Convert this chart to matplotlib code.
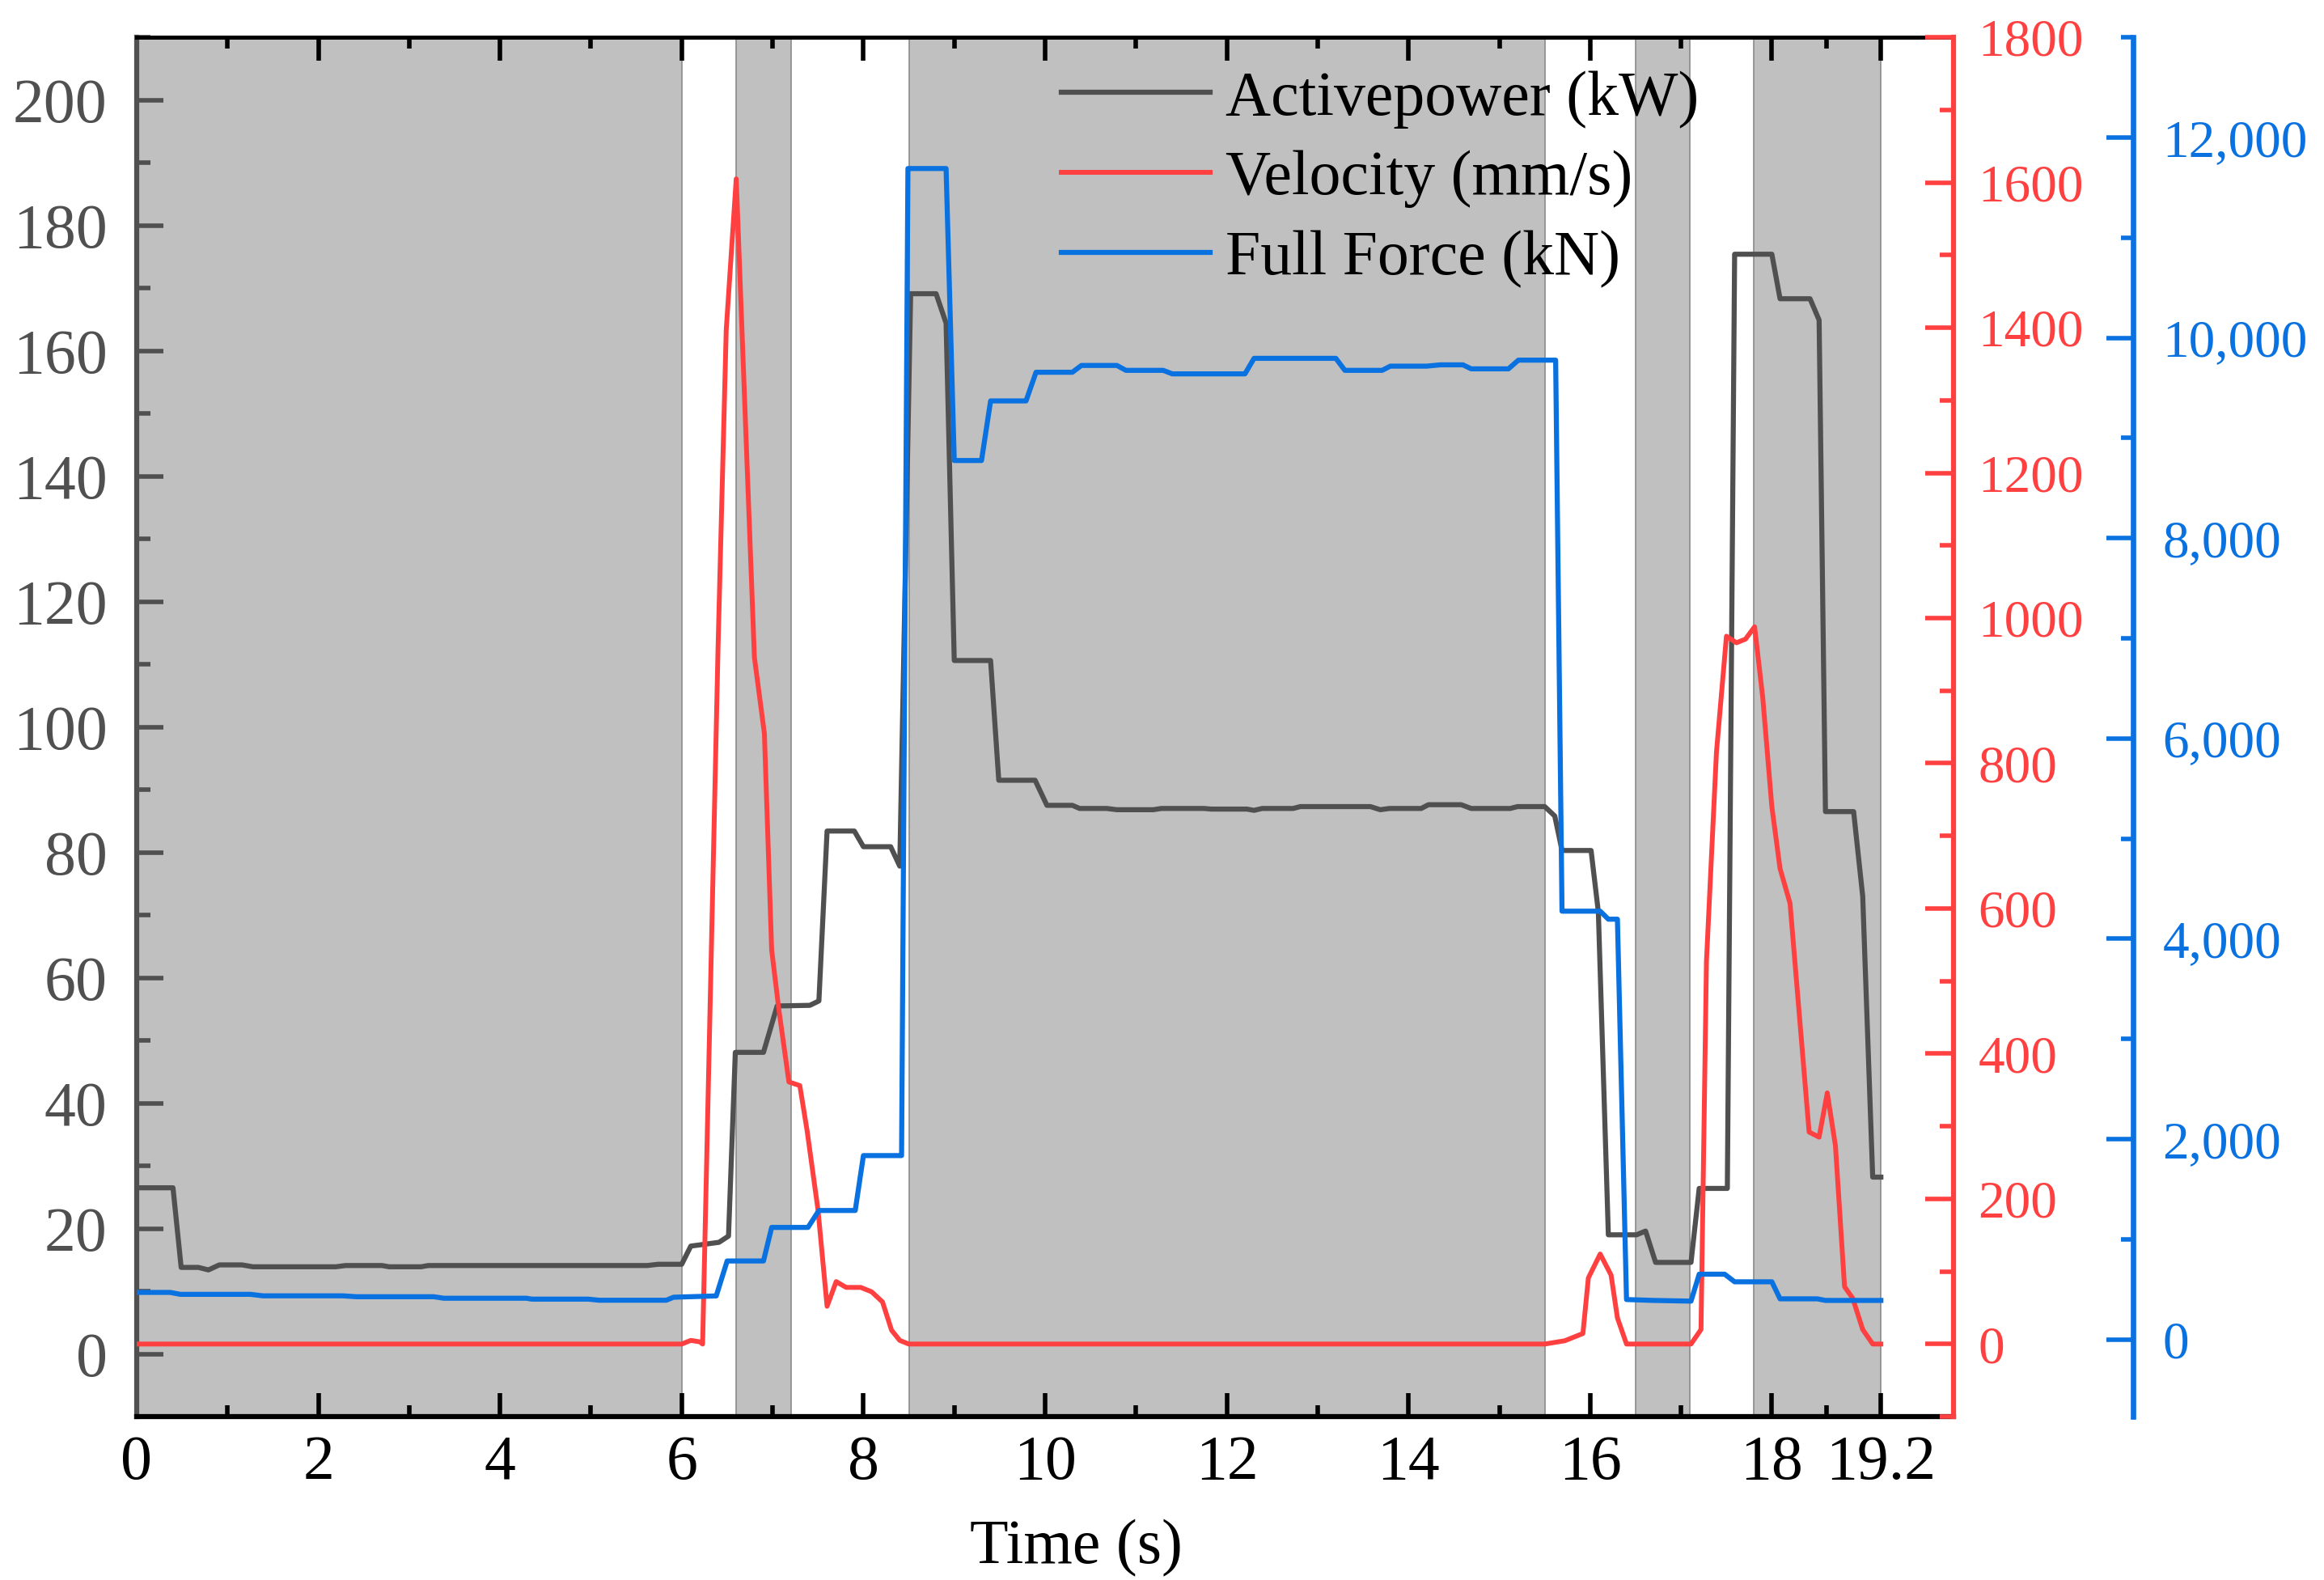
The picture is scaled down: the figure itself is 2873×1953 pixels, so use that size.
import numpy as np
import matplotlib.pyplot as plt
from matplotlib.ticker import MultipleLocator, FixedLocator, FuncFormatter

plt.rcParams['font.family'] = ['Liberation Serif', 'DejaVu Serif']

# ---------------- data ----------------
# Activepower (kW)
t_power = [0, 0.40, 0.49, 0.68, 0.79, 0.91, 1.16, 1.28, 2.19, 2.30, 2.70,
           2.78, 3.13, 3.21, 5.62, 5.74, 6.0, 6.1, 6.41, 6.515, 6.59, 6.90,
           7.05, 7.41, 7.51, 7.60, 7.90, 8.00, 8.30, 8.40, 8.52, 8.80, 8.91,
           9.0, 9.40, 9.49, 9.89, 10.02, 10.30, 10.38, 10.68, 10.79, 11.19,
           11.28, 11.75, 11.83, 12.22, 12.30, 12.39, 12.73, 12.81, 13.58,
           13.69, 13.79, 14.14, 14.22, 14.58, 14.69, 15.12, 15.20, 15.50,
           15.61, 15.69, 16.01, 16.09, 16.20, 16.51, 16.61, 16.72, 17.11,
           17.20, 17.51, 17.59, 18.00, 18.09, 18.42, 18.52, 18.59, 18.90,
           19.00, 19.11, 19.20]
power = [26.5, 26.5, 13.8, 13.8, 13.4, 14.2, 14.2, 13.9, 13.9, 14.1, 14.1,
         13.9, 13.9, 14.1, 14.1, 14.3, 14.3, 17.2, 17.8, 18.8, 48.1, 48.1,
         55.5, 55.6, 56.3, 83.4, 83.4, 80.9, 80.9, 77.8, 169.1, 169.1, 164.4,
         110.6, 110.6, 91.5, 91.5, 87.5, 87.5, 87.0, 87.0, 86.8, 86.8,
         87.0, 87.0, 86.9, 86.9, 86.7, 87.0, 87.0, 87.3, 87.3,
         86.8, 87.0, 87.0, 87.6, 87.6, 87.0, 87.0, 87.3, 87.3,
         85.8, 80.3, 80.3, 70.5, 19.0, 19.0, 19.6, 14.6, 14.6,
         26.4, 26.4, 175.4, 175.4, 168.3, 168.3, 164.9, 86.5, 86.5,
         73.0, 28.2, 28.2]

# Velocity (mm/s)
t_vel = [0, 6.0, 6.1, 6.2, 6.23, 6.40, 6.49, 6.6, 6.80, 6.91, 6.99, 7.07,
         7.18, 7.30, 7.38, 7.50, 7.60, 7.70, 7.81, 7.97, 8.09, 8.21, 8.31,
         8.40, 8.5, 15.5, 15.72, 15.92, 15.98, 16.11, 16.23, 16.30, 16.40,
         17.11, 17.22, 17.28, 17.39, 17.50, 17.61, 17.71, 17.81, 17.90,
         18.00, 18.09, 18.20, 18.41, 18.52, 18.61, 18.70, 18.80, 18.89,
         19.00, 19.11, 19.20]
velocity = [0, 0, 5, 3, 0, 960, 1397, 1605, 946, 841, 543, 460,
            361, 356, 294, 185, 52, 86, 78, 78, 72, 58, 19,
            5, 0, 0, 4.5, 14.5, 91, 124, 95, 36, 0,
            0, 20, 527, 815, 975, 966, 971, 988, 890,
            740, 655, 607, 292, 285, 346, 273, 79, 63,
            20, 0, 0]

# Full Force (kN)
t_force = [0, 0.37, 0.48, 1.25, 1.39, 2.27, 2.42, 3.27, 3.38, 4.29, 4.35,
           4.97, 5.09, 5.83, 5.91, 6.38, 6.50, 6.90, 6.99, 7.39, 7.51, 7.91,
           8.0, 8.42, 8.49, 8.91, 9.0, 9.30, 9.40, 9.79, 9.90, 10.30, 10.40,
           10.79, 10.89, 11.30, 11.40, 12.20, 12.30, 13.20, 13.30, 13.71,
           13.80, 14.2, 14.35, 14.6, 14.69, 15.1, 15.21, 15.62, 15.69, 16.11,
           16.20, 16.30, 16.40, 16.70, 17.11, 17.20, 17.48, 17.59, 18.0,
           18.09, 18.50, 18.59, 19.20]
force = [470, 470, 451, 451, 436, 436, 427, 427, 412, 412, 403,
         403, 392, 392, 422, 435, 784, 784, 1119, 1119, 1288, 1288,
         1836, 1836, 11690, 11690, 8775, 8775, 9370, 9370, 9656, 9656, 9724,
         9724, 9675, 9675, 9640, 9640, 9795, 9795, 9675, 9675,
         9717, 9717, 9730, 9730, 9690, 9690, 9777, 9777, 4276, 4276,
         4196, 4196, 399, 390, 383, 652, 652, 576, 576,
         406, 406, 390, 390]

# grey stages
shade_start = [0, 6.6, 8.5, 16.5, 17.8]
shade_end = [6, 7.2, 15.5, 17.1, 19.2]

x_major = [0, 2, 4, 6, 8, 10, 12, 14, 16, 18, 19.2]
x_labels = ['0', '2', '4', '6', '8', '10', '12', '14', '16', '18', '19.2']
x_minor = [1, 3, 5, 7, 9, 11, 13, 15, 17, 18.6]

# ---------------- figure ----------------
fs = 56      # left / bottom / legend text
fs_r = 47    # right-hand axes labels
c_black = '#505050'
c_red = '#ff4040'
c_blue = '#0a72e0'

fig = plt.figure(figsize=(28.73, 19.53), dpi=100)
ax = fig.add_axes([0.0588, 0.1034, 0.7818, 0.873])
ax_r = ax.twinx()
ax_b = ax.twinx()

for s, e in zip(shade_start, shade_end):
    ax.axvspan(s, e, facecolor='#c0c0c0', edgecolor='#8a8a8a',
               linewidth=1.2, zorder=0)

l1, = ax.plot(t_power, power, color=c_black, lw=4.5, zorder=3,
              label='Activepower (kW)')
l2, = ax_r.plot(t_vel, velocity, color=c_red, lw=4.3, zorder=3,
                label='Velocity (mm/s)')
l3, = ax_b.plot(t_force, force, color=c_blue, lw=4.5, zorder=3,
                label='Full Force (kN)')

# host axis (power)
ax.set_xlim(0, 20)
ax.set_ylim(-10, 210)
ax.xaxis.set_major_locator(FixedLocator(x_major))
ax.set_xticklabels(x_labels)
ax.xaxis.set_minor_locator(FixedLocator(x_minor))
ax.set_yticks([0, 20, 40, 60, 80, 100, 120, 140, 160, 180, 200])
ax.yaxis.set_minor_locator(MultipleLocator(10))

ax.tick_params(axis='x', which='both', direction='in', top=True,
               labelsize=fs, colors='black', pad=16, width=4.0)
ax.tick_params(axis='x', which='major', length=21)
ax.tick_params(axis='x', which='minor', length=10)
ax.tick_params(axis='y', which='both', direction='in', right=False,
               labelsize=fs, colors=c_black, pad=26, width=4.0)
ax.tick_params(axis='y', which='major', length=24)
ax.tick_params(axis='y', which='minor', length=12)

ax.spines['left'].set_color(c_black)
ax.spines['left'].set_linewidth(4.5)
ax.spines['bottom'].set_linewidth(4.5)
ax.spines['top'].set_linewidth(3.6)
ax.spines['right'].set_visible(False)

ax.set_xlabel('Time (s)', fontsize=fs)
ax.xaxis.set_label_coords(0.517, -0.0745)

# velocity axis
ax_r.set_ylim(-100, 1800)
ax_r.yaxis.set_major_locator(MultipleLocator(200))
ax_r.yaxis.set_minor_locator(MultipleLocator(100))
ax_r.tick_params(axis='y', which='both', direction='in', labelsize=fs_r,
                 colors=c_red, pad=22, width=4.0)
ax_r.tick_params(axis='y', which='major', length=25)
ax_r.tick_params(axis='y', which='minor', length=12)
for side in ['left', 'top', 'bottom']:
    ax_r.spines[side].set_visible(False)
ax_r.spines['right'].set_color(c_red)
ax_r.spines['right'].set_linewidth(4.5)

# force axis
ax_b.set_ylim(-770, 13000)
ax_b.spines['right'].set_position(('outward', 160))
ax_b.yaxis.set_major_locator(MultipleLocator(2000))
ax_b.yaxis.set_minor_locator(MultipleLocator(1000))
ax_b.yaxis.set_major_formatter(FuncFormatter(lambda v, p: '{:,.0f}'.format(v)))
ax_b.tick_params(axis='y', which='both', direction='in', labelsize=fs_r,
                 colors=c_blue, pad=26, width=4.0)
ax_b.tick_params(axis='y', which='major', length=24)
ax_b.tick_params(axis='y', which='minor', length=11)
for side in ['left', 'top', 'bottom']:
    ax_b.spines[side].set_visible(False)
ax_b.spines['right'].set_color(c_blue)
ax_b.spines['right'].set_linewidth(4.8)

ax_b.legend(handles=[l1, l2, l3], loc='upper left',
            bbox_to_anchor=(0.509, 0.976), bbox_transform=ax.transAxes,
            frameon=False, fontsize=fs, handlelength=2.36,
            handletextpad=0.25, labelspacing=0.35, borderpad=0,
            borderaxespad=0)

fig.savefig('out.png', dpi=100)
